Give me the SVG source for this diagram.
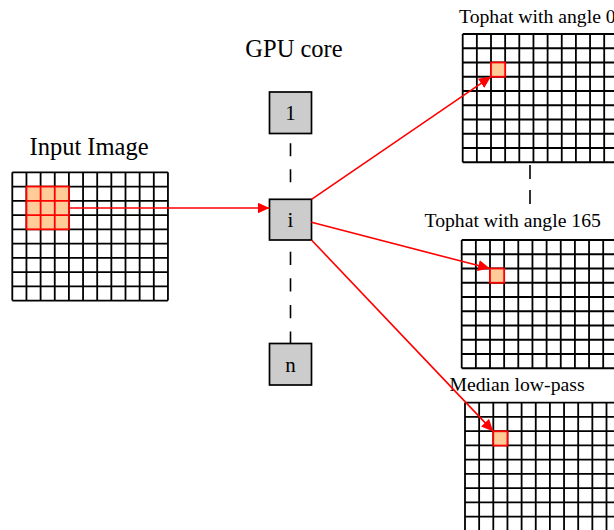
<svg xmlns="http://www.w3.org/2000/svg" xmlns:xlink="http://www.w3.org/1999/xlink" width="614" height="530" viewBox="0 0 614 530">
<style>
.title{font-family:"Liberation Serif","Times New Roman",serif;font-size:24.5px;fill:#000}
.label{font-family:"Liberation Serif","Times New Roman",serif;font-size:19.7px;fill:#000}
.boxtext{font-family:"Liberation Serif","Times New Roman",serif;font-size:21px;fill:#000;text-anchor:middle}
.box{fill:#cccccc;stroke:#000;stroke-width:1.7}
.gridline{fill:none;stroke:#000;stroke-width:1.8}
.hl{fill:#ffcc99;stroke:#ff0000;stroke-width:1.8}
.arrow{fill:none;stroke:#ff0000;stroke-width:1.6;marker-end:url(#ah)}
.dash{fill:none;stroke:#000;stroke-width:1.6}
</style>
<defs>
<marker id="ah" markerUnits="userSpaceOnUse" markerWidth="12" markerHeight="11" refX="12" refY="5.5" orient="auto">
<path d="M0,0 L12,5.5 L0,11 z" fill="#ff0000"/>
</marker>
<g id="grid">
<rect x="0" y="0" width="155.65" height="128.25" fill="#fff"/>
<path class="gridline" d="M0,0V128.25M14.15,0V128.25M28.3,0V128.25M42.45,0V128.25M56.6,0V128.25M70.75,0V128.25M84.9,0V128.25M99.05,0V128.25M113.2,0V128.25M127.35,0V128.25M141.5,0V128.25M155.65,0V128.25M0,0H155.65M0,14.25H155.65M0,28.5H155.65M0,42.75H155.65M0,57H155.65M0,71.25H155.65M0,85.5H155.65M0,99.75H155.65M0,114H155.65M0,128.25H155.65"/>
</g>
</defs>
<rect width="614" height="530" fill="#fff"/>

<g id="input-image">
<text class="title" x="29.5" y="155">Input Image</text>
<use xlink:href="#grid" x="12.3" y="172.3"/>
<rect class="hl" x="26.45" y="186.55" width="42.45" height="42.75"/>
<path d="M40.6,186.55V229.3M54.75,186.55V229.3M26.45,200.8H68.9M26.45,215.05H68.9" fill="none" stroke="#ff0000" stroke-width="1.8"/>
</g>

<g id="gpu-core">
<text class="title" x="294" y="57" text-anchor="middle">GPU core</text>
</g>
<g id="core-1">
<rect class="box" x="269.5" y="92" width="42" height="41.5"/>
<text class="boxtext" x="290.5" y="120">1</text>
</g>
<g id="core-i">
<rect class="box" x="269.5" y="199.3" width="42" height="40.7"/>
<text class="boxtext" x="290.5" y="226.7">i</text>
</g>
<g id="core-n">
<rect class="box" x="269.5" y="343.5" width="42" height="41.5"/>
<text class="boxtext" x="290.5" y="371.7">n</text>
</g>

<g id="tophat-0">
<text class="label" x="459" y="22.7">Tophat with angle 0</text>
<use xlink:href="#grid" x="462.7" y="34"/>
<rect class="hl" x="491" y="62.5" width="14.15" height="14.25"/>
</g>
<g id="tophat-165">
<text class="label" x="424.5" y="226.7">Tophat with angle 165</text>
<use xlink:href="#grid" x="461.7" y="240"/>
<rect class="hl" x="490" y="268.5" width="14.15" height="14.25"/>
</g>
<g id="median">
<text class="label" x="449.5" y="391">Median low-pass</text>
<use xlink:href="#grid" x="465" y="402.6"/>
<rect class="hl" x="493.3" y="431.3" width="14.15" height="14.25"/>
</g>

<g id="connectors">
<path class="dash" d="M290.5,143.3V183.3" stroke-dasharray="13 13"/>
<path class="dash" d="M290.5,251.7V343.5" stroke-dasharray="13.3 13.3"/>
<path class="dash" d="M530,165V204" stroke-dasharray="14 11"/>
<path class="arrow" d="M68.9,208H269.5"/>
<path class="arrow" d="M311.5,199.3L491,76.6"/>
<path class="arrow" d="M311.5,222.3L490,268.6"/>
<path class="arrow" d="M311.5,240L493.3,431.4"/>
</g>
</svg>
